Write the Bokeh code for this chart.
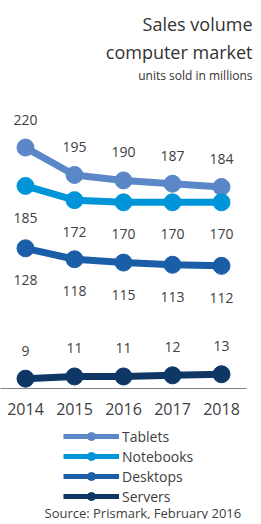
from bokeh.plotting import figure
from bokeh.layouts import column
from bokeh.models import (Title, Legend, LegendItem, Range1d, ColumnDataSource, Label,
                          FixedTicker, Spacer)
from bokeh.core.properties import value
from bokeh.embed import file_html
from bokeh.resources import INLINE

years = [2014, 2015, 2016, 2017, 2018]
year_labels = ["2014", "2015", "2016", "2017", "2018"]
tablets = [220, 195, 190, 187, 184]
notebooks = [185, 172, 170, 170, 170]
desktops = [128, 118, 115, 113, 112]
servers = [9, 11, 11, 12, 13]
series_names = ["Tablets", "Notebooks", "Desktops", "Servers"]
colors = ["#5B87C8", "#0095D8", "#1A5EA8", "#0E3766"]
label_above = [True, False, False, True]

FONT = "Open Sans"
TXT = "#404040"

p = figure(frame_width=246, frame_height=304, x_range=Range1d(2013.49, 2018.51),
           y_range=Range1d(0, 277.6), output_backend="svg", toolbar_location=None,
           min_border_left=0, min_border_right=7, min_border_top=0, min_border_bottom=36)
p.title = None
p.outline_line_color = None
p.grid.grid_line_color = None
p.yaxis.visible = False
p.xaxis.ticker = FixedTicker(ticks=years)
p.xaxis.major_label_overrides = {y: s for y, s in zip(years, year_labels)}
p.xaxis.axis_line_color = "#808080"
p.xaxis.axis_line_width = 1
p.xaxis.major_tick_line_color = None
p.xaxis.minor_tick_line_color = None
p.xaxis.major_label_text_font = FONT
p.xaxis.major_label_text_font_size = "16px"
p.xaxis.major_label_text_color = TXT
p.xaxis.major_label_standoff = 8

for name, vals, col, above in zip(series_names, [tablets, notebooks, desktops, servers], colors, label_above):
    src = ColumnDataSource(dict(x=years, y=vals, lab=[str(v) for v in vals]))
    p.line("x", "y", source=src, line_color=col, line_width=7)
    p.scatter("x", "y", source=src, size=17, fill_color=col, line_color=col)
    p.text("x", "y", text="lab", source=src, text_align="center", text_baseline="middle",
           y_offset=-28 if above else 32, text_font=value(FONT), text_font_size="14px",
           text_color=TXT)

for txt, size, so in [("units sold in millions", "12px", 2), ("computer market", "18px", 0), ("Sales volume", "18px", 4)]:
    p.add_layout(Title(text=txt, align="right", text_font=FONT, text_font_size=size,
                       text_font_style="normal", text_color="#333333", standoff=so,
                       offset=-6), "above")

# legend + source panel
lg = figure(width=253, height=95, x_range=Range1d(0, 1), y_range=Range1d(0, 1),
            output_backend="svg", toolbar_location=None,
            min_border_left=0, min_border_right=0, min_border_top=0, min_border_bottom=0)
lg.title = None
lg.axis.visible = False
lg.grid.grid_line_color = None
lg.outline_line_color = None

items = []
for name, col in zip(series_names, colors):
    # placed outside the visible range: only their legend glyphs show
    lsrc = ColumnDataSource(dict(x=[5, 6], y=[5, 5]))
    lln = lg.line("x", "y", source=lsrc, line_color=col, line_width=5)
    lsc = lg.scatter("x", "y", source=lsrc, size=7, fill_color=col, line_color=col)
    items.append(LegendItem(label=name, renderers=[lln, lsc]))

legend = Legend(items=items, location=(63, 13), orientation="vertical",
                label_text_font=FONT, label_text_font_size="14px", label_text_color=TXT,
                glyph_width=56, glyph_height=20, spacing=0, padding=0, margin=0,
                label_standoff=3, border_line_color=None, background_fill_alpha=0)
lg.add_layout(legend, "center")

lg.add_layout(Label(x=44, y=7, x_units="screen", y_units="screen",
                    text="Source: Prismark, February 2016", text_align="left",
                    text_baseline="middle", text_font=FONT, text_font_size="13px",
                    text_color=TXT))

layout = column(Spacer(width=253, height=7), p, lg, spacing=0)
open("out.html", "w").write(file_html(layout, INLINE))
